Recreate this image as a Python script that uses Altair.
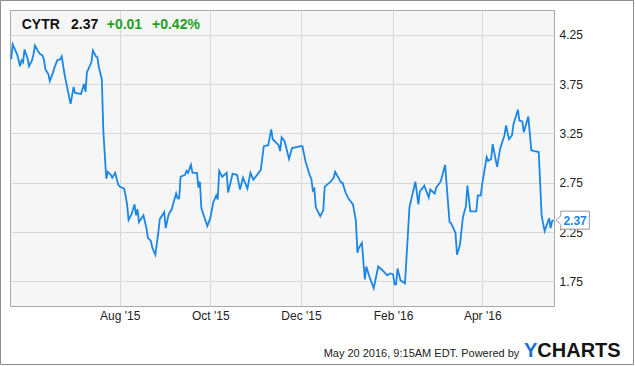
import altair as alt
import pandas as pd

# ---- data ----
dates = [
    "2015-05-20", "2015-05-21", "2015-05-24", "2015-05-26", "2015-05-27", "2015-05-28", "2015-05-29", "2015-05-31",
    "2015-06-01", "2015-06-03", "2015-06-04", "2015-06-05", "2015-06-08", "2015-06-10", "2015-06-11", "2015-06-12",
    "2015-06-14", "2015-06-15", "2015-06-17", "2015-06-18", "2015-06-20", "2015-06-22", "2015-06-23", "2015-06-25",
    "2015-06-27", "2015-06-29", "2015-07-01", "2015-07-02", "2015-07-06", "2015-07-08", "2015-07-09", "2015-07-10",
    "2015-07-13", "2015-07-14", "2015-07-16", "2015-07-17", "2015-07-18", "2015-07-20", "2015-07-21", "2015-07-22",
    "2015-07-23", "2015-07-24", "2015-07-26", "2015-07-27", "2015-07-29", "2015-07-31", "2015-08-01", "2015-08-04",
    "2015-08-05", "2015-08-06", "2015-08-07", "2015-08-09", "2015-08-11", "2015-08-12", "2015-08-13", "2015-08-14",
    "2015-08-17", "2015-08-19", "2015-08-20", "2015-08-22", "2015-08-23", "2015-08-25", "2015-08-27", "2015-08-28",
    "2015-08-31", "2015-09-01", "2015-09-03", "2015-09-05", "2015-09-08", "2015-09-09", "2015-09-10", "2015-09-11",
    "2015-09-14", "2015-09-15", "2015-09-16", "2015-09-18", "2015-09-19", "2015-09-22", "2015-09-23", "2015-09-24",
    "2015-09-25", "2015-09-29", "2015-10-01", "2015-10-03", "2015-10-05", "2015-10-06", "2015-10-07", "2015-10-09",
    "2015-10-12", "2015-10-13", "2015-10-16", "2015-10-19", "2015-10-21", "2015-10-23", "2015-10-26", "2015-10-28",
    "2015-10-30", "2015-11-04", "2015-11-06", "2015-11-09", "2015-11-11", "2015-11-12", "2015-11-16", "2015-11-17",
    "2015-11-18", "2015-11-20", "2015-11-23", "2015-11-25", "2015-12-01", "2015-12-02", "2015-12-04", "2015-12-07",
    "2015-12-08", "2015-12-09", "2015-12-10", "2015-12-11", "2015-12-14", "2015-12-16", "2015-12-17", "2015-12-21",
    "2015-12-23", "2015-12-24", "2015-12-28", "2015-12-29", "2015-12-31", "2016-01-02", "2016-01-05", "2016-01-07",
    "2016-01-08", "2016-01-09", "2016-01-11", "2016-01-13", "2016-01-14", "2016-01-16", "2016-01-19", "2016-01-22",
    "2016-01-25", "2016-01-28", "2016-01-30", "2016-02-01", "2016-02-02", "2016-02-03", "2016-02-04", "2016-02-06",
    "2016-02-09", "2016-02-11", "2016-02-12", "2016-02-16", "2016-02-18", "2016-02-19", "2016-02-22", "2016-02-25",
    "2016-02-26", "2016-02-29", "2016-03-01", "2016-03-04", "2016-03-07", "2016-03-10", "2016-03-11", "2016-03-14",
    "2016-03-15", "2016-03-17", "2016-03-19", "2016-03-21", "2016-03-22", "2016-03-24", "2016-03-28", "2016-03-29",
    "2016-03-31", "2016-04-01", "2016-04-04", "2016-04-05", "2016-04-07", "2016-04-08", "2016-04-11", "2016-04-13",
    "2016-04-14", "2016-04-16", "2016-04-17", "2016-04-19", "2016-04-21", "2016-04-22", "2016-04-25", "2016-04-26",
    "2016-04-28", "2016-04-29", "2016-05-02", "2016-05-04", "2016-05-06", "2016-05-09", "2016-05-11", "2016-05-13",
    "2016-05-16", "2016-05-17", "2016-05-18", "2016-05-19",
]
prices = [
    4.00, 4.15, 4.05, 3.93, 3.99, 3.97, 4.10, 4.01,
    3.93, 3.99, 4.05, 4.14, 4.06, 4.04, 4.00, 3.90,
    3.85, 3.78, 3.86, 3.91, 3.99, 4.00, 4.03, 3.84,
    3.69, 3.55, 3.72, 3.66, 3.65, 3.75, 3.67, 3.87,
    3.97, 4.09, 4.03, 4.02, 3.92, 3.80, 3.28, 3.03,
    2.79, 2.86, 2.83, 2.80, 2.85, 2.73, 2.71, 2.69,
    2.62, 2.53, 2.37, 2.43, 2.53, 2.42, 2.48, 2.35,
    2.42, 2.29, 2.19, 2.16, 2.09, 2.02, 2.24, 2.38,
    2.45, 2.29, 2.43, 2.48, 2.64, 2.59, 2.59, 2.81,
    2.83, 2.87, 2.85, 2.93, 2.85, 2.85, 2.70, 2.76,
    2.49, 2.31, 2.39, 2.55, 2.62, 2.58, 2.87, 2.81,
    2.85, 2.65, 2.84, 2.83, 2.68, 2.80, 2.69, 2.85,
    2.78, 2.88, 3.12, 3.13, 3.29, 3.19, 3.13, 3.07,
    3.21, 3.17, 2.99, 3.10, 3.12, 3.12, 2.97, 2.82,
    2.79, 2.67, 2.69, 2.50, 2.41, 2.47, 2.71, 2.76,
    2.80, 2.86, 2.75, 2.75, 2.65, 2.59, 2.53, 2.36,
    2.04, 2.09, 2.14, 1.77, 1.90, 1.80, 1.68, 1.90,
    1.86, 1.81, 1.83, 1.82, 1.72, 1.72, 1.88, 1.76,
    1.73, 2.23, 2.50, 2.76, 2.53, 2.66, 2.72, 2.60,
    2.68, 2.64, 2.70, 2.76, 2.93, 2.35, 2.34, 2.24,
    2.02, 2.12, 2.40, 2.51, 2.72, 2.46, 2.46, 2.62,
    2.62, 2.74, 3.01, 2.97, 2.99, 3.14, 2.91, 3.09,
    3.14, 3.23, 3.33, 3.19, 3.23, 3.34, 3.49, 3.38,
    3.37, 3.26, 3.42, 3.08, 3.07, 3.06, 2.41, 2.26,
    2.39, 2.29, 2.36, 2.37,
]
y_ticks = [1.75, 2.25, 2.75, 3.25, 3.75, 4.25]
x_ticks = [(2015, 8), (2015, 10), (2015, 12), (2016, 2), (2016, 4)]

ticker = "CYTR"
last_price = "2.37"
change = "+0.01"
change_pct = "+0.42%"
footer = "May 20 2016, 9:15AM EDT. Powered by"
logo_a = "Y"
logo_b = "CHARTS"

# ---- styling ----
BLUE = "#1a87e6"
GREEN = "#22a022"
FONT = "Liberation Sans"

df = pd.DataFrame({"date": dates, "price": prices})
last_df = df.iloc[[-1]].copy()
last_df["label"] = last_df["price"].map(lambda v: f"{v:.2f}")

x_scale = alt.Scale(
    type="utc",
    domain=[
        alt.DateTime(year=2015, month=5, date=19, hours=5, utc=True),
        alt.DateTime(year=2016, month=5, date=19, hours=7, utc=True),
    ],
)
x_axis = alt.Axis(
    values=[alt.DateTime(year=y, month=m, date=1, utc=True) for y, m in x_ticks],
    format="%b '%y",
    title=None,
    domain=False,
    ticks=False,
    labelPadding=4,
    labelFontSize=12,
    labelColor="#222222",
    labelFont=FONT,
    labelOverlap=False,
    labelFlush=False,
    gridColor="#d9d9d9",
    gridWidth=1,
)
y_scale = alt.Scale(domain=[1.5, 4.5], nice=False, zero=False)
y_axis = alt.Axis(
    orient="right",
    values=y_ticks,
    format=".2f",
    title=None,
    domain=False,
    ticks=False,
    labelPadding=5,
    labelFontSize=12,
    labelColor="#222222",
    labelFont=FONT,
    gridColor="#d9d9d9",
    gridWidth=1,
)

base = alt.Chart(df)

line = base.mark_line(color=BLUE, strokeWidth=1.8).encode(
    x=alt.X("date:T", scale=x_scale, axis=x_axis),
    y=alt.Y("price:Q", scale=y_scale, axis=y_axis),
)

callout_path = "M0,0 L0.47,-0.42 L0.47,-0.9 L3.33,-0.9 L3.33,0.9 L0.47,0.9 L0.47,0.42 Z"
callout = alt.Chart(last_df).mark_point(
    shape=callout_path, size=400, filled=True, fill="white", stroke="#9a9a9a",
    strokeWidth=1, opacity=1, fillOpacity=1, strokeOpacity=1, xOffset=2.5,
).encode(x="date:T", y="price:Q")

callout_text = alt.Chart(last_df).mark_text(
    font=FONT, fontSize=12, fontWeight="bold", color=BLUE, align="center",
    baseline="middle", dx=21.5, dy=0.5,
).encode(x="date:T", y="price:Q", text="label:N")


def txt(value, x, y, size, weight, color, align="left"):
    return alt.Chart(pd.DataFrame({"t": [value]})).mark_text(
        font=FONT, fontSize=size, fontWeight=weight, color=color,
        align=align, baseline="alphabetic",
    ).encode(text="t:N", x=alt.value(x), y=alt.value(y))


title_layers = [
    txt(ticker, 11.7, 18.7, 14, "bold", "#111111"),
    txt(last_price, 61.0, 18.7, 14, "bold", "#111111"),
    txt(change, 96.7, 18.7, 14, "bold", GREEN),
    txt(change_pct, 142.0, 18.7, 14, "bold", GREEN),
    txt(footer, 509.3, 347.0, 11, "normal", "#222222", align="right"),
    txt(logo_a, 514.0, 346.7, 20, "bold", "#1a6fd9"),
    txt(logo_b, 527.3, 346.7, 20, "bold", "#141414"),
]

frame = alt.Chart(pd.DataFrame({"k": [0]})).mark_rect(
    fillOpacity=0, stroke="#8c8c8c", strokeWidth=1,
).encode(
    x=alt.value(-9.5), x2=alt.value(623.5), y=alt.value(-9.5), y2=alt.value(354.5)
)

chart = alt.layer(line, callout, callout_text, *title_layers, frame).properties(
    width=544,
    height=296,
    padding={"left": 10, "top": 10, "right": 81, "bottom": 60},
    autosize=alt.AutoSizeParams(type="none"),
    background="white",
).configure_view(
    fill="#f6f6f6", stroke="#a8a8a8", strokeWidth=1
)

chart.save("out.html", embed_options={"renderer": "svg", "actions": False})
